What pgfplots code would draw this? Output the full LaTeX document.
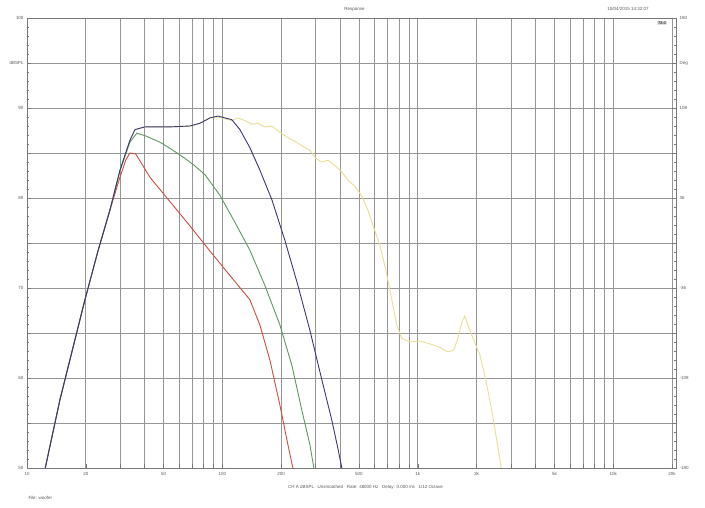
\documentclass[border=0pt]{standalone}
\usepackage{pgfplots}
\pgfplotsset{compat=1.18}
\usepackage{fontspec}
\setmainfont{Liberation Sans}
\definecolor{gridc}{RGB}{150,150,150}
\definecolor{framec}{RGB}{120,120,120}
\definecolor{cred}{RGB}{205,75,65}
\definecolor{cgreen}{RGB}{95,150,95}
\definecolor{cblue}{RGB}{55,55,115}
\definecolor{cyellow}{RGB}{232,222,150}
\begin{document}
\begin{tikzpicture}
\begin{axis}[name=ax, scale only axis, width=649bp, height=450bp,
  xmode=log, xmin=10, xmax=20960, ymin=50, ymax=100,
  xtick={10,20,30,40,50,60,70,80,90,100,200,300,400,500,600,700,800,900,1000,2000,3000,4000,5000,6000,7000,8000,9000,10000,20000},
  xticklabels={10,20,{},{},50,{},{},{},{},100,200,{},{},500,{},{},{},{},1k,2k,{},{},5k,{},{},{},{},10k,20k},
  ytick={50,55,...,100},
  yticklabels={50,{},60,{},70,{},80,{},90,dBSPL,100},
  minor y tick num=4, ytick pos=left, xtick pos=bottom,
  xmajorgrids, ymajorgrids,
  major grid style={gridc, line width=0.7pt},
  axis line style={framec, line width=0.9pt},
  tick style={framec, line width=0.5pt},
  major tick length=4bp, minor tick length=2.5bp,
  tick label style={font=\fontsize{4.5}{5}\selectfont, text=black!65},
  xticklabel style={yshift=-1bp},
  every axis plot/.append style={line width=0.9pt, mark=none},
]
% yellow
\addplot[cyellow] coordinates {
(11.5,45)(12.4,50)(14.75,57.6)(19.8,68.7)(23,74)(26.6,78.7)(29.9,83.1)(33.6,86.4)(35.7,87.6)(40.1,87.9)(53.9,87.9)(68.2,88.0)(76.7,88.3)(86.4,88.9)
(95,89.0)(103,88.8)(111.8,88.6)(120.0,88.9)(130.3,88.6)(141.6,88.2)(151.9,88.3)(164.9,87.9)(179.2,88.0)(196.9,87.3)
(216.3,86.7)(234.9,86.3)(255.1,85.8)(280.4,85.3)(300.8,84.4)(322.8,84.0)(346.5,84.2)(376.2,83.6)(408.6,82.9)(438.5,82.0)
(476.3,81.3)(517.1,80.2)(554.9,78.7)(595.5,76.7)(639.2,74.8)(686.0,72.0)(736.2,68.7)(780.9,65.9)(828.4,64.4)(910.3,64.0)
(1023.7,64.1)(1152,63.8)(1296,63.4)(1424,62.9)(1528,63.1)(1601.9,64.4)(1680,66.2)(1740,66.9)(1823,65.6)(1934,64.2)
(2076,62.6)(2227,59.8)(2389.8,56.4)(2535.5,53.1)(2659,50.3)(2720,48.7)
};
% red
\addplot[cred] coordinates {
(11.5,45)(12.4,50)(14.75,57.6)(19.8,68.7)(23,74)(26.6,78.7)(29.9,82.3)(32.0,84.2)(33.6,85.0)(36.0,84.9)(42.6,82.3)(53.9,79.6)
(68.2,76.9)(86.4,74.1)(109.2,71.4)(138.2,68.7)(155.5,65.9)(175,62.0)(196.9,57.0)(216.3,52.6)(229.5,50)(240,47.5)
};
% green
\addplot[cgreen] coordinates {
(11.5,45)(12.4,50)(14.75,57.6)(19.8,68.7)(23,74)(26.6,78.7)(29.9,83.0)(33.6,86.2)(36.5,87.2)(40.5,86.9)(47.9,86.2)(55,85.4)(64.3,84.4)
(72,83.6)(81.4,82.6)(97.1,80.3)(115.9,77.3)(138.2,74.2)(164.9,70.3)(196.9,65.9)(226.8,61.4)(255.1,56.4)(280.4,52.6)(293.8,50)(305,47.5)
};
% blue
\addplot[cblue] coordinates {
(11.5,45)(12.4,50)(14.75,57.6)(19.8,68.7)(23,74)(26.6,78.7)(29.9,83.1)(33.6,86.4)(35.7,87.6)(40.1,87.9)(53.9,87.9)(68.2,88.0)
(76.7,88.3)(86.4,88.9)(95,89.1)(103,88.9)(111.8,88.7)(122.9,87.6)(138.2,85.6)(155.5,83.1)(179.2,79.8)(208.8,75.3)(243.4,70.3)
(280.4,65.3)(322.8,59.8)(363.2,55.3)(389.8,52.2)(408.6,50)(425,47.5)
};
\end{axis}
\begin{axis}[scale only axis, width=649bp, height=450bp,
  xmode=log, xmin=10, xmax=20960, ymin=-180, ymax=180,
  axis x line=none, axis y line*=right,
  ytick={-180,-144,...,180},
  yticklabels={-180,{},-108,{},-36,{},36,{},108,Deg,180},
  minor y tick num=4,
  axis line style={framec, line width=0.9pt},
  tick style={framec, line width=0.5pt},
  major tick length=4bp, minor tick length=2.5bp,
  tick label style={font=\fontsize{4.5}{5}\selectfont, text=black!65},
]
\addplot[draw=none] coordinates {(100,0)};
\end{axis}
\node[font=\fontsize{4.5}{5}\selectfont, text=black!65] at ([xshift=3bp,yshift=9bp]ax.north) {Response};
\node[font=\fontsize{4.5}{5}\selectfont, text=black!65] at ([xshift=-48bp,yshift=9bp]ax.north east) {10/04/2015 14:32:07};
\node[font=\bfseries\fontsize{4}{5}\selectfont, text=black!80, fill=black!12, inner sep=1pt] at ([xshift=-14bp,yshift=-5bp]ax.north east) {78.0};
\node[font=\fontsize{4.5}{5}\selectfont, text=black!65] at ([xshift=14bp,yshift=-19bp]ax.south) {CH A dBSPL \ \ Unsmoothed \ \ Rate: 48000 Hz \ \ Delay: 0.000 ms \ \ 1/12 Octave};
\node[font=\fontsize{4.5}{5}\selectfont, text=black!65, anchor=west] at ([xshift=-2bp,yshift=-30bp]ax.south west) {File: woofer};
\pgfresetboundingbox
\path[use as bounding box] ([shift={(-27bp,-40bp)}]ax.south west) rectangle ([shift={(29bp,18bp)}]ax.north east);
\end{tikzpicture}
\end{document}
